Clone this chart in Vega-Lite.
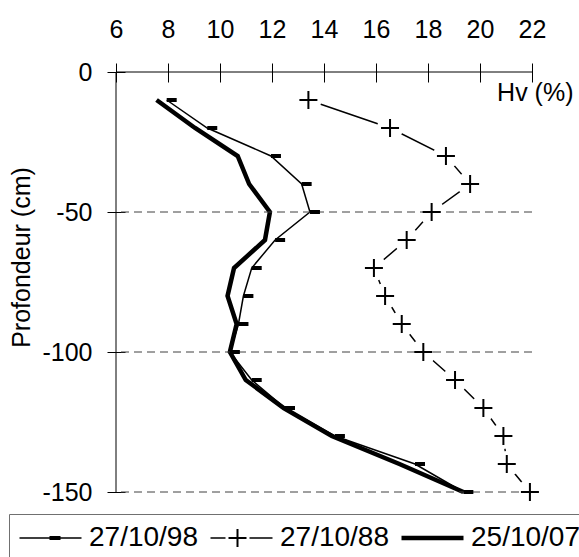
{
  "$schema": "https://vega.github.io/schema/vega-lite/v6.json",
  "width": 416,
  "height": 420,
  "autosize": {"type": "none"},
  "padding": {"left": 116, "top": 72, "right": 47, "bottom": 65},
  "background": "white",
  "config": {"view": {"stroke": null}, "font": "Liberation Sans"},
  "datasets": {
    "profiles": [
      {"date": "27/10/98", "depth": -10, "hv": 7.95},
      {"date": "27/10/98", "depth": -20, "hv": 9.51},
      {"date": "27/10/98", "depth": -30, "hv": 11.96},
      {"date": "27/10/98", "depth": -40, "hv": 13.14},
      {"date": "27/10/98", "depth": -50, "hv": 13.46},
      {"date": "27/10/98", "depth": -60, "hv": 12.12},
      {"date": "27/10/98", "depth": -70, "hv": 11.22},
      {"date": "27/10/98", "depth": -80, "hv": 10.9},
      {"date": "27/10/98", "depth": -90, "hv": 10.71},
      {"date": "27/10/98", "depth": -100, "hv": 10.38},
      {"date": "27/10/98", "depth": -110, "hv": 11.22},
      {"date": "27/10/98", "depth": -120, "hv": 12.5},
      {"date": "27/10/98", "depth": -130, "hv": 14.42},
      {"date": "27/10/98", "depth": -140, "hv": 17.5},
      {"date": "27/10/98", "depth": -150, "hv": 19.36},
      {"date": "27/10/88", "depth": -10, "hv": 13.4},
      {"date": "27/10/88", "depth": -20, "hv": 16.54},
      {"date": "27/10/88", "depth": -30, "hv": 18.69},
      {"date": "27/10/88", "depth": -40, "hv": 19.62},
      {"date": "27/10/88", "depth": -50, "hv": 18.14},
      {"date": "27/10/88", "depth": -60, "hv": 17.18},
      {"date": "27/10/88", "depth": -70, "hv": 15.92},
      {"date": "27/10/88", "depth": -80, "hv": 16.35},
      {"date": "27/10/88", "depth": -90, "hv": 16.99},
      {"date": "27/10/88", "depth": -100, "hv": 17.82},
      {"date": "27/10/88", "depth": -110, "hv": 19.04},
      {"date": "27/10/88", "depth": -120, "hv": 20.13},
      {"date": "27/10/88", "depth": -130, "hv": 20.9},
      {"date": "27/10/88", "depth": -140, "hv": 21.03},
      {"date": "27/10/88", "depth": -150, "hv": 21.92},
      {"date": "25/10/07", "depth": -10, "hv": 7.56},
      {"date": "25/10/07", "depth": -20, "hv": 9.04},
      {"date": "25/10/07", "depth": -30, "hv": 10.68},
      {"date": "25/10/07", "depth": -40, "hv": 11.12},
      {"date": "25/10/07", "depth": -50, "hv": 11.92},
      {"date": "25/10/07", "depth": -60, "hv": 11.73},
      {"date": "25/10/07", "depth": -70, "hv": 10.54},
      {"date": "25/10/07", "depth": -80, "hv": 10.29},
      {"date": "25/10/07", "depth": -90, "hv": 10.64},
      {"date": "25/10/07", "depth": -100, "hv": 10.38},
      {"date": "25/10/07", "depth": -110, "hv": 10.99},
      {"date": "25/10/07", "depth": -120, "hv": 12.45},
      {"date": "25/10/07", "depth": -130, "hv": 14.3},
      {"date": "25/10/07", "depth": -140, "hv": 16.9},
      {"date": "25/10/07", "depth": -150, "hv": 19.36}
    ],
    "grid": [{"depth": -50}, {"depth": -100}, {"depth": -150}],
    "frame": [{"depth": 0, "hv": 6}]
  },
  "layer": [
    {
      "data": {"name": "profiles"},
      "transform": [{"filter": "datum.date != '25/10/07'"}],
      "mark": {"type": "line", "color": "black", "strokeWidth": 1.5},
      "encoding": {
        "x": {
          "field": "hv", "type": "quantitative",
          "scale": {"domain": [6, 22], "nice": false, "zero": false},
          "axis": {
            "orient": "top", "values": [6, 8, 10, 12, 14, 16, 18, 20, 22],
            "domain": false, "grid": false, "offset": -10,
            "tickSize": 19, "tickColor": "black", "tickWidth": 1,
            "labelFontSize": 25, "labelColor": "black", "labelPadding": 26,
            "labelBaseline": "alphabetic", "labelFlush": false, "labelOverlap": false,
            "labelFont": "Liberation Sans",
            "title": "Hv (%)", "titleFont": "Liberation Sans", "titleFontSize": 25,
            "titleFontWeight": "normal", "titleColor": "black",
            "titleAlign": "right", "titleBaseline": "alphabetic",
            "titleX": 457, "titleY": 18
          }
        },
        "y": {
          "field": "depth", "type": "quantitative",
          "scale": {"domain": [-150, 0], "nice": false, "zero": false},
          "axis": {
            "orient": "left", "values": [0, -50, -100, -150],
            "domain": false, "grid": false, "offset": -9,
            "tickSize": 18, "tickColor": "black", "tickWidth": 1,
            "labelFontSize": 25, "labelColor": "black", "labelPadding": 15,
            "labelFont": "Liberation Sans", "labelFlush": false, "labelOverlap": false,
            "labelExpr": "'' + datum.value",
            "title": "Profondeur (cm)", "titleFont": "Liberation Sans", "titleFontSize": 25,
            "titleFontWeight": "normal", "titleColor": "black",
            "titleAngle": 270, "titleAlign": "center", "titleBaseline": "middle",
            "titleX": -104, "titleY": 185
          }
        },
        "detail": {"field": "date"},
        "order": {"field": "depth", "sort": "descending"}
      }
    },
    {
      "data": {"name": "profiles"},
      "transform": [{"filter": "datum.date == '25/10/07'"}],
      "mark": {"type": "line", "color": "black", "strokeWidth": 4.5},
      "encoding": {
        "x": {"field": "hv", "type": "quantitative"},
        "y": {"field": "depth", "type": "quantitative"},
        "order": {"field": "depth", "sort": "descending"}
      }
    },
    {
      "data": {"name": "profiles"},
      "transform": [{"filter": "datum.date == '27/10/88'"}],
      "mark": {"type": "point", "shape": "circle", "filled": true, "fill": "white", "stroke": null, "opacity": 1, "size": 676},
      "encoding": {
        "x": {"field": "hv", "type": "quantitative"},
        "y": {"field": "depth", "type": "quantitative"}
      }
    },
    {
      "data": {"name": "grid"},
      "mark": {"type": "rule", "color": "#404040", "strokeWidth": 1, "strokeDash": [8, 5]},
      "encoding": {"y": {"field": "depth", "type": "quantitative"}}
    },
    {
      "data": {"name": "frame"},
      "mark": {"type": "rule", "color": "black", "strokeWidth": 1},
      "encoding": {"y": {"field": "depth", "type": "quantitative"}}
    },
    {
      "data": {"name": "frame"},
      "mark": {"type": "rule", "color": "black", "strokeWidth": 1},
      "encoding": {"x": {"field": "hv", "type": "quantitative"}}
    },
    {
      "data": {"name": "profiles"},
      "transform": [{"filter": "datum.date == '27/10/98'"}],
      "mark": {"type": "point", "shape": "M0,-0.4H2V0.4H0Z", "filled": true, "fill": "black", "stroke": null, "opacity": 1, "size": 100},
      "encoding": {
        "x": {"field": "hv", "type": "quantitative"},
        "y": {"field": "depth", "type": "quantitative"}
      }
    },
    {
      "data": {"name": "profiles"},
      "transform": [{"filter": "datum.date == '27/10/88'"}],
      "mark": {"type": "point", "shape": "M-1,0H1M0,-1V1", "filled": false, "stroke": "black", "strokeWidth": 2, "opacity": 1, "size": 324},
      "encoding": {
        "x": {"field": "hv", "type": "quantitative"},
        "y": {"field": "depth", "type": "quantitative"}
      }
    },
    {
      "data": {"name": "profiles"},
      "mark": {"type": "point", "filled": true, "fill": "black", "stroke": null, "opacity": 0, "size": 256},
      "encoding": {
        "x": {"field": "hv", "type": "quantitative"},
        "y": {"field": "depth", "type": "quantitative"},
        "shape": {
          "field": "date", "type": "nominal",
          "scale": {
            "domain": ["27/10/98", "27/10/88", "25/10/07"],
            "range": [
              "M-1.6875,-0.094H6.0625V0.094H-1.6875Z M2.0625,-0.25H3.4375V0.25H2.0625Z",
              "M-1.6875,-0.094H0.1875V0.094H-1.6875Z M0.5625,-0.125H2.8125V0.125H0.5625Z M1.5625,-1.125H1.8125V1.125H1.5625Z M3.1875,-0.094H6.0625V0.094H3.1875Z",
              "M-1.6875,-0.28H6.0625V0.28H-1.6875Z"
            ]
          },
          "legend": {
            "title": null, "orient": "none", "legendX": -107, "legendY": 442,
            "direction": "horizontal", "padding": 10,
            "strokeColor": "#707070", "fillColor": "white",
            "symbolSize": 256, "symbolOpacity": 1, "symbolFillColor": "black",
            "symbolStrokeWidth": 0,
            "labelFontSize": 28, "labelFont": "Liberation Sans", "labelColor": "black",
            "labelOffset": 42, "columnPadding": 12, "labelLimit": 0
          }
        }
      }
    }
  ]
}
